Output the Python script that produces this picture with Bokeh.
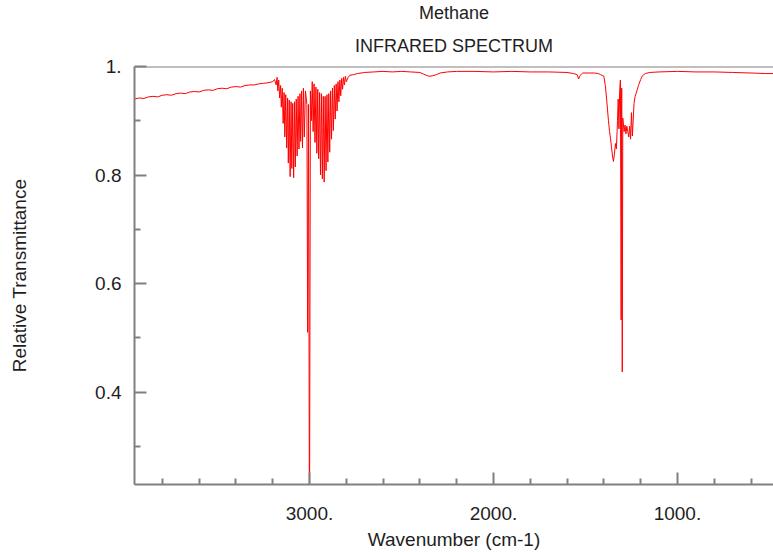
from bokeh.plotting import figure
from bokeh.models import Range1d, Title, FixedTicker, Span
from bokeh.embed import file_html
from bokeh.resources import INLINE

# ---- data (wavenumber cm-1, relative transmittance) ----
left_wn = [3951, 3925, 3900, 3875, 3850, 3825, 3800, 3775, 3750, 3725, 3700, 3675,
           3650, 3625, 3600, 3575, 3550, 3525, 3500, 3475, 3450, 3425, 3400, 3375,
           3350, 3325, 3300, 3275, 3250, 3225, 3200]
left_t = [0.940, 0.942, 0.941, 0.944, 0.945, 0.944, 0.947, 0.948, 0.947, 0.950, 0.951, 0.950,
          0.953, 0.954, 0.953, 0.956, 0.957, 0.956, 0.959, 0.960, 0.959, 0.962, 0.963, 0.962,
          0.965, 0.966, 0.966, 0.968, 0.969, 0.970, 0.972]

nu3_wn = [3190, 3181, 3176, 3172, 3167, 3162, 3157, 3153, 3148, 3143, 3138, 3134, 3129,
          3124, 3119, 3115, 3110, 3105, 3100, 3096, 3091, 3086, 3081, 3077, 3072, 3067,
          3062, 3057, 3052, 3048, 3043, 3038, 3033, 3028, 3022,
          3014, 3010, 3005, 3000, 2995,
          2990, 2985, 2980, 2975, 2970, 2965, 2960, 2955, 2950, 2945, 2940, 2935, 2930,
          2925, 2920, 2915, 2910, 2905, 2900, 2895, 2890, 2885, 2880, 2875, 2870, 2865,
          2860, 2855, 2850, 2845, 2840, 2835, 2830, 2825, 2820, 2815, 2810, 2805, 2800,
          2790, 2780, 2760, 2740, 2720, 2700]
nu3_t = [0.976, 0.966, 0.980, 0.955, 0.975, 0.942, 0.965, 0.925, 0.960, 0.895, 0.952, 0.870, 0.948,
         0.850, 0.942, 0.822, 0.938, 0.797, 0.935, 0.812, 0.932, 0.795, 0.935, 0.815, 0.940, 0.835,
         0.945, 0.848, 0.950, 0.862, 0.955, 0.850, 0.960, 0.870, 0.955,
         0.930, 0.510, 0.930, 0.100, 0.955,
         0.900, 0.972, 0.880, 0.968, 0.860, 0.962, 0.840, 0.958, 0.830, 0.952, 0.800, 0.950, 0.793,
         0.945, 0.787, 0.945, 0.808, 0.948, 0.824, 0.950, 0.842, 0.955, 0.866, 0.960, 0.882, 0.965,
         0.903, 0.968, 0.918, 0.972, 0.935, 0.975, 0.946, 0.978, 0.958, 0.980, 0.966, 0.982, 0.972,
         0.980, 0.984, 0.985, 0.987, 0.988, 0.989]

mid_wn = [2650, 2600, 2550, 2500, 2450, 2400, 2380, 2360, 2345, 2330, 2310, 2290, 2250,
          2200, 2100, 2000, 1900, 1800, 1700, 1600, 1565, 1545, 1537, 1530, 1515, 1450, 1430]
mid_t = [0.990, 0.991, 0.990, 0.991, 0.990, 0.989, 0.986, 0.983, 0.982, 0.983, 0.985, 0.988, 0.990,
         0.991, 0.991, 0.990, 0.991, 0.990, 0.990, 0.989, 0.987, 0.985, 0.977, 0.983, 0.988, 0.988, 0.987]

nu4_wn = [1418, 1400, 1392, 1385, 1380, 1375, 1369, 1364, 1358, 1353, 1348, 1343, 1337,
          1332, 1328, 1326, 1322, 1318, 1314, 1310, 1306, 1303, 1300, 1297,
          1290, 1285, 1280, 1275, 1270, 1265, 1260, 1255, 1250, 1245, 1240, 1236,
          1230, 1225, 1218, 1212, 1200, 1190, 1175, 1150]
nu4_t = [0.985, 0.982, 0.965, 0.940, 0.920, 0.900, 0.880, 0.868, 0.850, 0.835, 0.825, 0.838, 0.858,
         0.848, 0.880, 0.900, 0.940, 0.885, 0.955, 0.975, 0.533, 0.960, 0.437, 0.905,
         0.880, 0.892, 0.876, 0.890, 0.880, 0.870, 0.890, 0.866, 0.915, 0.872, 0.905, 0.932,
         0.945, 0.950, 0.958, 0.965, 0.976, 0.983, 0.987, 0.989]

right_wn = [1100, 1000, 900, 800, 700, 600, 520, 478]
right_t = [0.990, 0.991, 0.990, 0.990, 0.989, 0.988, 0.987, 0.987]

x_ticks = [3000, 2000, 1000]
x_tick_labels = ["3000.", "2000.", "1000."]
x_minor = [3800, 3600, 3400, 3200, 2800, 2600, 2400, 2200, 1800, 1600, 1400, 1200, 800, 600]
y_ticks = [0.4, 0.6, 0.8, 1.0]
y_tick_labels = ["0.4", "0.6", "0.8", "1."]
y_minor = [0.3, 0.5, 0.7, 0.9]

wn = left_wn + nu3_wn + mid_wn + nu4_wn + right_wn
tr = left_t + nu3_t + mid_t + nu4_t + right_t

FONT = "Liberation Sans"
TXT = "#1e1e1e"
AX = "#808080"

p = figure(frame_width=639, frame_height=418,
           x_range=Range1d(3951, 478), y_range=Range1d(0.2295, 1.0),
           output_backend="svg", toolbar_location=None,
           min_border_left=134, min_border_right=0, min_border_top=66, min_border_bottom=0,
           background_fill_color="white", border_fill_color="white")
p.outline_line_color = None
p.grid.visible = False

p.line(wn, tr, line_color="#ff0000", line_width=1)

p.add_layout(Span(location=1.0, dimension="width", line_color=AX, line_width=2))

t2 = Title(text="INFRARED SPECTRUM", align="center", text_font=FONT, text_font_size="18px",
           text_font_style="normal", text_color=TXT, standoff=22)
t1 = Title(text="Methane", align="center", text_font=FONT, text_font_size="18px",
           text_font_style="normal", text_color=TXT, standoff=0)
p.add_layout(t2, "above")
p.add_layout(t1, "above")

xa = p.xaxis[0]
xa.ticker = FixedTicker(ticks=x_ticks, minor_ticks=x_minor)
xa.major_label_overrides = {t: l for t, l in zip(x_ticks, x_tick_labels)}
xa.axis_label = "Wavenumber (cm-1)"
xa.major_label_standoff = 22
xa.axis_label_standoff = 6

ya = p.yaxis[0]
ya.ticker = FixedTicker(ticks=y_ticks, minor_ticks=y_minor)
ya.major_label_overrides = {t: l for t, l in zip(y_ticks, y_tick_labels)}
ya.axis_label = "Relative Transmittance"
ya.major_label_standoff = 13
ya.axis_label_standoff = 62

for ax in (xa, ya):
    ax.axis_line_color = AX
    ax.axis_line_width = 2
    ax.major_tick_line_color = AX
    ax.minor_tick_line_color = AX
    ax.major_tick_line_width = 2
    ax.minor_tick_line_width = 2
    ax.major_tick_in = 12
    ax.major_tick_out = 0
    ax.minor_tick_in = 6
    ax.minor_tick_out = 0
    ax.major_label_text_font = FONT
    ax.major_label_text_font_size = "19px"
    ax.major_label_text_color = TXT
    ax.axis_label_text_font = FONT
    ax.axis_label_text_font_size = "19px"
    ax.axis_label_text_font_style = "normal"
    ax.axis_label_text_color = TXT

open("out.html", "w").write(file_html(p, INLINE))
